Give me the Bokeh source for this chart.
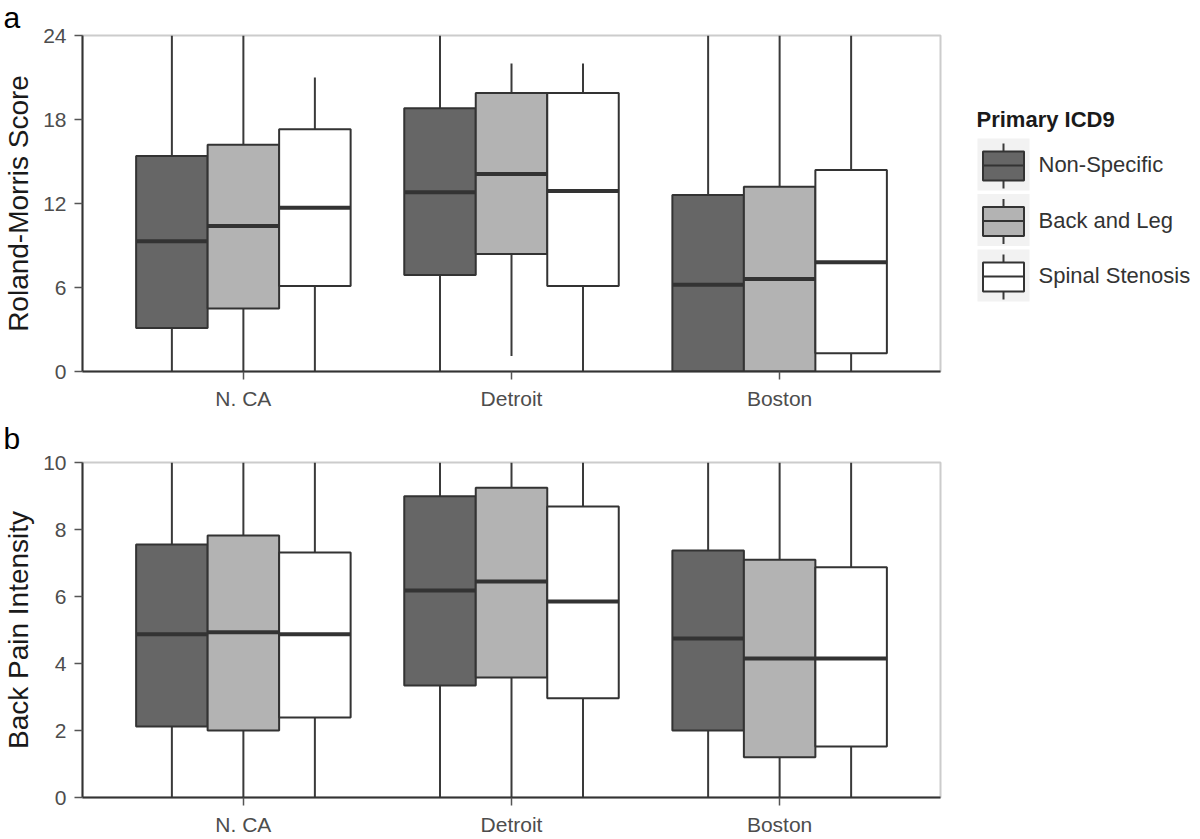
from bokeh.plotting import figure
from bokeh.models import ColumnDataSource, Range1d, FactorRange, FixedTicker, Label
from bokeh.transform import dodge
from bokeh.layouts import column, row
from bokeh.core.properties import value
from bokeh.embed import file_html
from bokeh.resources import INLINE

# ---------------- data ----------------
cities = ["N. CA", "Detroit", "Boston"]
groups = ["Non-Specific", "Back and Leg", "Spinal Stenosis"]
fill_colors = ["#666666", "#b3b3b3", "#ffffff"]

# panel a: Roland-Morris Score (values per city, for each group)
rm_lower = {"Non-Specific": [0, 0, 0], "Back and Leg": [0, 1.1, 0], "Spinal Stenosis": [0, 0, 0]}
rm_q1 = {"Non-Specific": [3.1, 6.9, 0.0], "Back and Leg": [4.5, 8.4, 0.0], "Spinal Stenosis": [6.1, 6.1, 1.3]}
rm_median = {"Non-Specific": [9.3, 12.8, 6.2], "Back and Leg": [10.4, 14.1, 6.6], "Spinal Stenosis": [11.7, 12.9, 7.8]}
rm_q3 = {"Non-Specific": [15.4, 18.8, 12.6], "Back and Leg": [16.2, 19.9, 13.2], "Spinal Stenosis": [17.3, 19.9, 14.4]}
rm_upper = {"Non-Specific": [24, 24, 24], "Back and Leg": [24, 22, 24], "Spinal Stenosis": [21, 22, 24]}
rm_ticks = [0, 6, 12, 18, 24]

# panel b: Back Pain Intensity
bpi_lower = {"Non-Specific": [0, 0, 0], "Back and Leg": [0, 0, 0], "Spinal Stenosis": [0, 0, 0]}
bpi_q1 = {"Non-Specific": [2.12, 3.34, 2.0], "Back and Leg": [2.0, 3.58, 1.2], "Spinal Stenosis": [2.39, 2.96, 1.52]}
bpi_median = {"Non-Specific": [4.87, 6.18, 4.75], "Back and Leg": [4.93, 6.45, 4.15], "Spinal Stenosis": [4.87, 5.85, 4.15]}
bpi_q3 = {"Non-Specific": [7.55, 8.99, 7.37], "Back and Leg": [7.82, 9.25, 7.1], "Spinal Stenosis": [7.31, 8.69, 6.87]}
bpi_upper = {"Non-Specific": [10, 10, 10], "Back and Leg": [10, 10, 10], "Spinal Stenosis": [10, 10, 10]}
bpi_ticks = [0, 2, 4, 6, 8, 10]

FONT = "Liberation Sans"
DARK = "#333333"
BORDER = "#cccccc"
DODGE_W = 0.8 / 3

P1_TOP, P1_BOTTOM, P1_H = 35, 49, 420


def make_panel(lower, q1, med, q3, upper, y_end, ticks, ylabel, tag,
               height, b_top, b_bottom, tag_y):
    p = figure(x_range=FactorRange(factors=cities, range_padding=0.2 / 3),
               y_range=Range1d(0, y_end), width=950, height=height,
               output_backend="svg", toolbar_location=None,
               min_border_left=79, min_border_right=10,
               min_border_top=b_top, min_border_bottom=b_bottom)
    p.xgrid.visible = False
    p.ygrid.visible = False
    p.outline_line_color = BORDER
    p.outline_line_width = 2
    p.background_fill_color = "white"

    for i, g in enumerate(groups):
        off = (i - 1) * DODGE_W
        src = ColumnDataSource(dict(city=cities, lo=lower[g], q1=q1[g], med=med[g],
                                    q3=q3[g], hi=upper[g]))
        xc = dodge("city", off, range=p.x_range)
        p.segment(x0=xc, y0="lo", x1=xc, y1="hi", source=src,
                  line_color="#3a3a3a", line_width=2)
        p.vbar(x=xc, width=DODGE_W, bottom="q1", top="q3", source=src,
               fill_color=fill_colors[i], line_color=DARK, line_width=2)
        p.segment(x0=dodge("city", off - DODGE_W / 2, range=p.x_range), y0="med",
                  x1=dodge("city", off + DODGE_W / 2, range=p.x_range), y1="med",
                  source=src, line_color=DARK, line_width=4)

    for ax in (p.xaxis[0], p.yaxis[0]):
        ax.axis_line_color = DARK
        ax.axis_line_width = 2
        ax.major_tick_line_color = "#555555"
        ax.major_tick_line_width = 1.5
        ax.major_tick_in = 0
        ax.major_tick_out = 8
        ax.minor_tick_line_color = None
        ax.major_label_text_font = FONT
        ax.major_label_text_font_size = "21px"
        ax.major_label_text_color = "#4d4d4d"
        ax.major_label_standoff = 8

    p.yaxis.ticker = FixedTicker(ticks=ticks)
    p.yaxis.axis_label = ylabel
    p.yaxis.axis_label_text_font = FONT
    p.yaxis.axis_label_text_font_size = "28px"
    p.yaxis.axis_label_text_font_style = "normal"
    p.yaxis.axis_label_text_color = "#1a1a1a"
    p.yaxis.axis_label_standoff = 6
    p.xaxis.major_label_standoff = 7

    # panel tag placed in the panel above the frame, so it is not clipped
    p.add_layout(Label(x=-79, y=tag_y, x_units="screen", y_units="screen", text=tag,
                       text_font=FONT, text_font_size="30px", text_color="black",
                       text_baseline="alphabetic", text_align="left"), "above")
    return p


p1 = make_panel(rm_lower, rm_q1, rm_median, rm_q3, rm_upper, 24, rm_ticks,
                "Roland-Morris Score", "a", P1_H, P1_TOP, P1_BOTTOM, 18)
p2 = make_panel(bpi_lower, bpi_q1, bpi_median, bpi_q3, bpi_upper, 10, bpi_ticks,
                "Back Pain Intensity", "b", 419, 42, 42, 24)

# ---------------- legend (separate small figure; its frame lines up with p1's frame,
# so the y range is expressed in page pixels of that frame) ----------------
LW = 250
leg = figure(width=LW, height=P1_H, x_range=Range1d(0, LW),
             y_range=Range1d(P1_H - P1_BOTTOM, P1_TOP),
             output_backend="svg", toolbar_location=None,
             x_axis_type=None, y_axis_type=None,
             min_border_left=0, min_border_right=0,
             min_border_top=P1_TOP, min_border_bottom=P1_BOTTOM)
leg.xgrid.visible = False
leg.ygrid.visible = False
leg.outline_line_color = None

key_top0, key_step, key_size = 138, 55.5, 52
key_x0 = 27
key_cx = key_x0 + key_size / 2
tops = [key_top0 + i * key_step for i in range(len(groups))]
centers = [t + key_size / 2 for t in tops]
lsrc = ColumnDataSource(dict(
    cx=[key_cx] * len(groups), cy=centers, color=fill_colors, label=groups,
    wtop=[t + 5 for t in tops], wbot=[t + 50 for t in tops],
    btop=[t + 13 for t in tops], bbot=[t + 42 for t in tops],
    med=[t + 27 for t in tops],
    bl=[key_cx - 20.5] * len(groups), br=[key_cx + 20.5] * len(groups),
    lx=[88] * len(groups)))
leg.rect(x="cx", y="cy", width=key_size, height=key_size, source=lsrc,
         fill_color="#f2f2f2", line_color=None)
leg.segment(x0="cx", y0="wtop", x1="cx", y1="wbot", source=lsrc,
            line_color="#3a3a3a", line_width=2)
leg.quad(left="bl", right="br", top="btop", bottom="bbot", source=lsrc,
         fill_color="color", line_color=DARK, line_width=2)
leg.segment(x0="bl", y0="med", x1="br", y1="med", source=lsrc,
            line_color=DARK, line_width=2)
leg.text(x="lx", y="cy", text="label", source=lsrc, text_font=value(FONT),
         text_font_size="22px", text_color="#333333", text_baseline="middle",
         text_align="left")
leg.text(x=[26], y=[119], text=["Primary ICD9"], text_font=value(FONT),
         text_font_size="22px", text_font_style="bold", text_color="#1a1a1a",
         text_baseline="middle", text_align="left")

layout = column(row(p1, leg), p2)
open("out.html", "w").write(file_html(layout, INLINE))
